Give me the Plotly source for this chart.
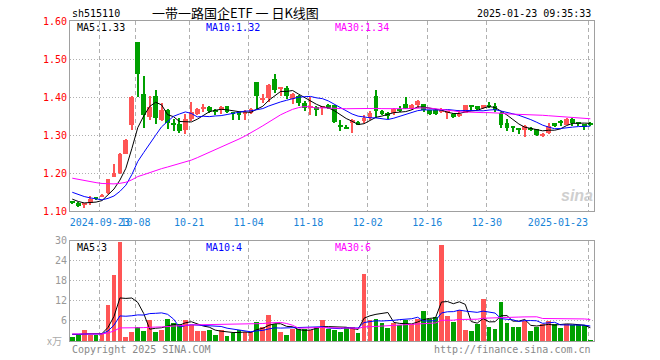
import plotly.graph_objects as go
import pandas as pd

# ---------------- data ----------------
opens = [1.123, 1.123, 1.117, 1.121, 1.134, 1.140, 1.147, 1.191, 1.200, 1.251,
         1.326, 1.544, 1.409, 1.347, 1.404, 1.339, 1.365, 1.329, 1.330, 1.314,
         1.342, 1.356, 1.370, 1.375, 1.364, 1.366, 1.376, 1.360, 1.360, 1.356,
         1.359, 1.440, 1.394, 1.397, 1.448, 1.422, 1.425, 1.396, 1.404, 1.385,
         1.373, 1.375, 1.372, 1.379, 1.378, 1.328, 1.318, 1.332, 1.334, 1.336,
         1.346, 1.404, 1.363, 1.358, 1.357, 1.368, 1.381, 1.369, 1.378, 1.381,
         1.365, 1.366, 1.362, 1.360, 1.355, 1.352, 1.359, 1.378, 1.376, 1.372,
         1.378, 1.377, 1.359, 1.331, 1.320, 1.317, 1.313, 1.318, 1.315, 1.300,
         1.305, 1.331, 1.335, 1.328, 1.343, 1.332, 1.329, 1.332]
highs = [1.125, 1.124, 1.122, 1.140, 1.136, 1.146, 1.186, 1.225, 1.253, 1.290,
         1.404, 1.544, 1.456, 1.404, 1.418, 1.384, 1.370, 1.342, 1.344, 1.356,
         1.386, 1.372, 1.383, 1.376, 1.368, 1.376, 1.377, 1.362, 1.361, 1.366,
         1.371, 1.441, 1.408, 1.434, 1.462, 1.425, 1.429, 1.411, 1.406, 1.389,
         1.401, 1.376, 1.377, 1.383, 1.380, 1.341, 1.328, 1.343, 1.336, 1.352,
         1.363, 1.418, 1.365, 1.360, 1.371, 1.376, 1.400, 1.383, 1.392, 1.382,
         1.366, 1.369, 1.372, 1.363, 1.357, 1.367, 1.379, 1.379, 1.377, 1.380,
         1.386, 1.385, 1.361, 1.343, 1.324, 1.318, 1.326, 1.321, 1.316, 1.307,
         1.331, 1.332, 1.341, 1.345, 1.344, 1.334, 1.330, 1.334]
lows = [1.121, 1.110, 1.109, 1.116, 1.131, 1.138, 1.145, 1.189, 1.199, 1.250,
        1.314, 1.400, 1.319, 1.340, 1.330, 1.336, 1.315, 1.311, 1.305, 1.302,
        1.337, 1.352, 1.360, 1.357, 1.354, 1.356, 1.357, 1.340, 1.340, 1.341,
        1.355, 1.369, 1.385, 1.387, 1.411, 1.403, 1.396, 1.382, 1.376, 1.363,
        1.352, 1.350, 1.352, 1.368, 1.331, 1.310, 1.315, 1.306, 1.327, 1.332,
        1.341, 1.346, 1.352, 1.343, 1.354, 1.361, 1.368, 1.366, 1.372, 1.361,
        1.352, 1.352, 1.357, 1.343, 1.346, 1.348, 1.357, 1.363, 1.367, 1.370,
        1.372, 1.362, 1.319, 1.310, 1.308, 1.302, 1.296, 1.311, 1.297, 1.296,
        1.302, 1.322, 1.324, 1.326, 1.325, 1.324, 1.313, 1.325]
closes = [1.122, 1.114, 1.119, 1.133, 1.133, 1.142, 1.184, 1.200, 1.251, 1.288,
          1.400, 1.460, 1.354, 1.375, 1.344, 1.365, 1.332, 1.327, 1.312, 1.342,
          1.361, 1.368, 1.372, 1.364, 1.362, 1.374, 1.361, 1.358, 1.354, 1.358,
          1.369, 1.403, 1.396, 1.432, 1.420, 1.424, 1.403, 1.408, 1.385, 1.372,
          1.375, 1.366, 1.375, 1.372, 1.334, 1.321, 1.317, 1.339, 1.329, 1.345,
          1.359, 1.363, 1.355, 1.350, 1.369, 1.366, 1.370, 1.378, 1.389, 1.366,
          1.355, 1.355, 1.364, 1.362, 1.349, 1.354, 1.378, 1.375, 1.370, 1.378,
          1.375, 1.366, 1.328, 1.318, 1.319, 1.316, 1.324, 1.315, 1.300, 1.302,
          1.324, 1.324, 1.333, 1.343, 1.331, 1.330, 1.322, 1.329]
volumes = [1.3, 1.9, 3.4, 1.9, 1.9, 2.1, 11.0, 19.7, 29.7, 1.2,
           2.7, 4.4, 3.0, 6.3, 2.7, 3.4, 6.8, 5.6, 5.1, 6.3,
           5.0, 3.0, 3.0, 3.4, 1.9, 3.4, 1.6, 2.4, 3.4, 2.7,
           2.7, 5.8, 4.4, 7.8, 5.1, 2.7, 1.9, 3.8, 3.6, 3.8,
           3.4, 4.2, 6.3, 3.8, 3.4, 2.7, 4.4, 4.4, 2.4, 20.2,
           6.3, 6.6, 5.6, 3.9, 5.4, 4.8, 6.3, 5.1, 6.8, 9.0,
           6.6, 7.2, 28.7, 7.5, 5.8, 9.4, 3.4, 3.0, 5.1, 12.7,
           4.4, 3.6, 11.9, 5.4, 4.4, 4.4, 6.1, 3.1, 4.4, 5.1,
           6.1, 5.1, 4.1, 5.1, 4.8, 4.8, 4.8, 0.4]

# history before the visible window (only feeds the moving averages)
pre_closes = [1.215, 1.212, 1.210, 1.213, 1.208, 1.206, 1.210, 1.207, 1.204, 1.208,
              1.205, 1.203, 1.206, 1.202, 1.200, 1.204, 1.201, 1.198, 1.202, 1.196,
              1.175, 1.170, 1.168, 1.165, 1.162, 1.145, 1.138, 1.130, 1.125]
pre_volumes = [2.4, 2.1, 1.9, 2.6, 2.2, 1.8, 2.0, 2.3, 2.5, 1.9,
               2.2, 2.0, 1.7, 2.4, 2.1, 2.3, 1.9, 2.0, 2.2, 2.6,
               1.8, 2.1, 2.0, 2.3, 1.9, 2.2, 2.4, 2.0, 2.1]

tick_idx = [5, 11, 20, 30, 40, 50, 60, 70, 87]
tick_labels = ["2024-09-23", "10-08", "10-21", "11-04", "11-18",
               "12-02", "12-16", "12-30", "2025-01-23"]
price_ticks = [1.10, 1.20, 1.30, 1.40, 1.50, 1.60]
vol_ticks = [6, 12, 18, 24, 30]

title_code = "sh515110"
title_name = "一带一路国企ETF 一 日K线图"
timestamp = "2025-01-23 09:35:33"
price_ma_labels = ["MA5:1.33", "MA10:1.32", "MA30:1.34"]
vol_ma_labels = ["MA5:3", "MA10:4", "MA30:6"]

# ---------------- derived ----------------
n = len(closes)
idx = list(range(n))
npre = len(pre_closes)
cs = pd.Series(pre_closes + closes)
vs = pd.Series(pre_volumes + volumes)
ma = {w: cs.rolling(w).mean().tolist()[npre:] for w in (5, 10, 30)}
vma = {w: vs.rolling(w).mean().tolist()[npre:] for w in (5, 10, 30)}

RED, GREEN = "#ff5555", "#00a000"
colors = [RED if c >= o else GREEN for o, c in zip(opens, closes)]
eps = 0.0026
body_base = [min(o, c) for o, c in zip(opens, closes)]
body_len = [max(abs(c - o), eps) for o, c in zip(opens, closes)]
wick_len = [h - l for h, l in zip(highs, lows)]

MA_COLORS = {5: "#000000", 10: "#0000ff", 30: "#ff00ff"}
MONO = "DejaVu Sans Mono"

fig = go.Figure()
fig.add_trace(go.Bar(x=idx, y=wick_len, base=lows, width=0.17,
                     marker=dict(color=colors, line_width=0),
                     xaxis="x", yaxis="y", hoverinfo="skip"))
fig.add_trace(go.Bar(x=idx, y=body_len, base=body_base, width=0.8,
                     marker=dict(color=colors, line_width=0),
                     xaxis="x", yaxis="y", hoverinfo="skip"))
for w in (5, 10, 30):
    fig.add_trace(go.Scatter(x=idx, y=ma[w], mode="lines",
                             line=dict(color=MA_COLORS[w], width=1),
                             xaxis="x", yaxis="y", hoverinfo="skip"))
fig.add_trace(go.Bar(x=idx, y=volumes, width=0.8,
                     marker=dict(color=colors, line_width=0),
                     xaxis="x2", yaxis="y2", hoverinfo="skip"))
for w in (5, 10, 30):
    fig.add_trace(go.Scatter(x=idx, y=vma[w], mode="lines",
                             line=dict(color=MA_COLORS[w], width=1),
                             xaxis="x2", yaxis="y2", hoverinfo="skip"))

# geometry (pixels)
W, H = 660, 360
L, R, T, B = 70, 62, 21, 19
pw, ph = W - L - R, H - T - B
price_bottom_px, vol_top_px = 211.3, 240.7
price_dom = [(H - B - price_bottom_px) / ph, 1]
vol_dom = [0, (H - B - vol_top_px) / ph]
xr = [-0.383, -0.383 + pw / 6.0]
grid_x = [i - 0.38 for i in tick_idx]
labels = tick_labels[:-1] + [tick_labels[-1] + "\u00a0" * 10]

FRAME = "#a0a0a0"
GRID = "#b0b0b0"
common_x = dict(range=xr, tickvals=grid_x, showgrid=True, gridcolor=GRID,
                griddash="4px,3px", gridwidth=1, showline=True, mirror=True,
                linecolor=FRAME, linewidth=1, ticks="", zeroline=False,
                fixedrange=True)
fig.update_layout(
    width=W, height=H, margin=dict(l=L, r=R, t=T, b=B),
    paper_bgcolor="white", plot_bgcolor="white", showlegend=False,
    barmode="overlay", bargap=0,
    xaxis=dict(**common_x, anchor="y", domain=[0, 1], ticktext=labels,
               tickangle=0, ticklabelstandoff=2,
               tickfont=dict(family=MONO, size=10, color="#1884d8")),
    xaxis2=dict(**common_x, anchor="y2", domain=[0, 1], matches="x",
                showticklabels=False),
    yaxis=dict(domain=price_dom, range=[1.10, 1.60], tickvals=price_ticks,
               ticktext=[f"{v:.2f}" for v in price_ticks],
               tickfont=dict(family=MONO, size=10, color="#ff0000"),
               showgrid=True, gridcolor=GRID, griddash="1px,2px", gridwidth=1,
               showline=True, mirror=True, linecolor=FRAME, linewidth=1,
               ticks="", zeroline=False, anchor="x", fixedrange=True),
    yaxis2=dict(domain=vol_dom, range=[0, 30], tickvals=vol_ticks,
                ticktext=[str(v) for v in vol_ticks],
                tickfont=dict(family=MONO, size=10, color="#999999"),
                showgrid=True, gridcolor=GRID, griddash="1px,2px", gridwidth=1,
                showline=True, mirror=True, linecolor=FRAME, linewidth=1,
                ticks="", zeroline=False, anchor="x2", fixedrange=True),
)


def px(x):
    return (x - L) / pw


def py(y):
    return (H - B - y) / ph


def text(s, x, y, color="#000000", size=10, anchor="left", family=MONO):
    fig.add_annotation(text=s, x=px(x), y=py(y), xref="paper", yref="paper",
                       xanchor=anchor, yanchor="middle", showarrow=False,
                       font=dict(family=family, size=size, color=color))


text(title_code, 70, 13)
text(title_name, 236.5, 12, size=13, anchor="center", family="Noto Sans CJK SC")
text(timestamp, 597, 13, anchor="right")
for s, x, w in zip(price_ma_labels, (75, 205, 335), (5, 10, 30)):
    text(s, x, 27, color=MA_COLORS[w])
for s, x, w in zip(vol_ma_labels, (75, 205, 335), (5, 10, 30)):
    text(s, x, 247, color=MA_COLORS[w])
text("x万", 64, 340, color="#aaaaaa", anchor="right", family="Noto Sans CJK SC")
text("Copyright 2025 SINA.COM", 70, 349, color="#888888")
text("http://finance.sina.com.cn", 597, 349, color="#888888", anchor="right")
text("<b><i>sina</i></b>", 581, 195, color="#cfcfcf", size=16, anchor="center",
     family="Liberation Sans")

fig.write_html("out.html", config={"displayModeBar": False},
               post_script="document.body.style.margin='0';"
                           "document.body.style.overflow='hidden';")
